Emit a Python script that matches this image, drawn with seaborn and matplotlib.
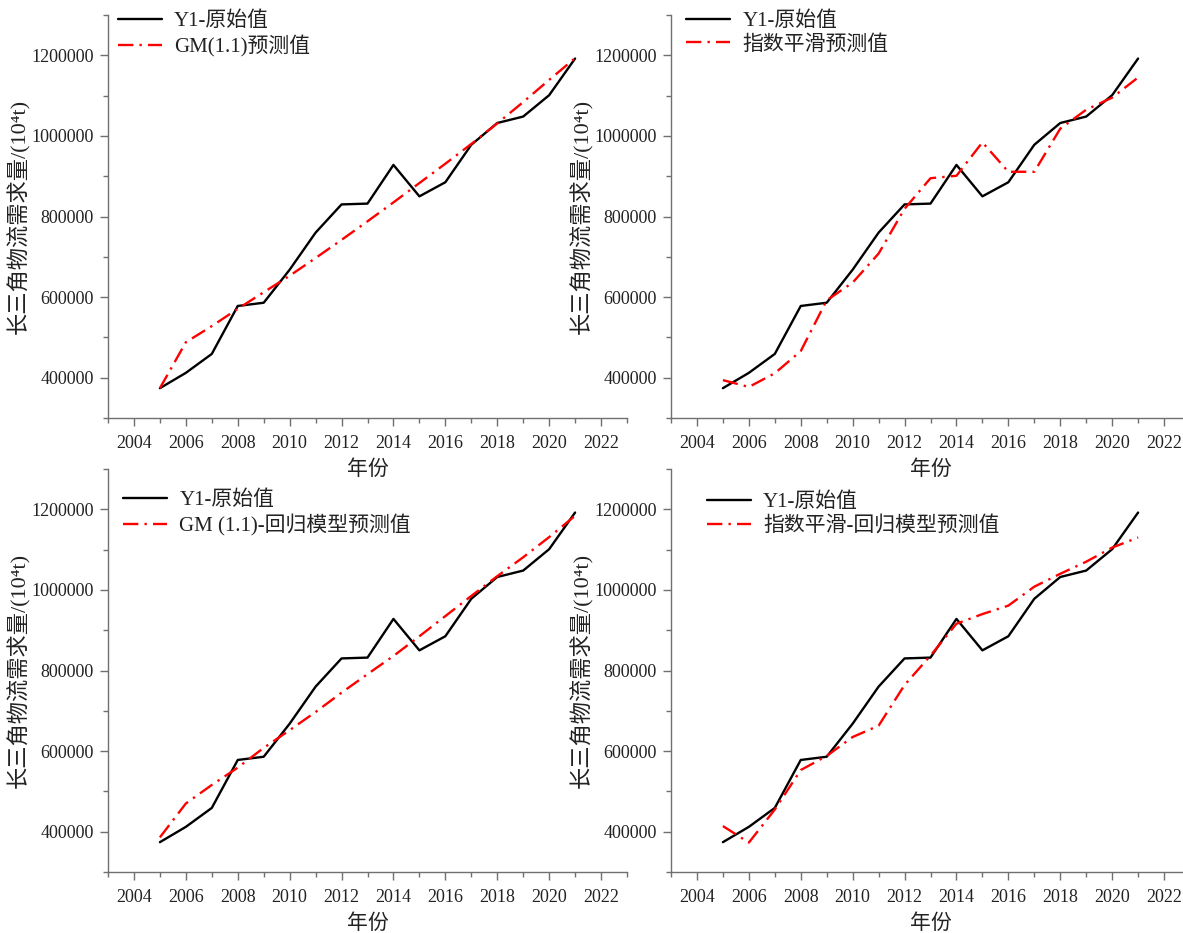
import numpy as np
import pandas as pd
import matplotlib
matplotlib.use("Agg")
import matplotlib.pyplot as plt
from matplotlib.ticker import MultipleLocator, FixedLocator, StrMethodFormatter
import seaborn as sns

years = list(range(2005, 2022))

# 长三角物流需求量 (10^4 t)
y1_actual = [374000, 412000, 459000, 578000, 586000, 668000, 760000, 830000,
             832000, 928000, 850000, 885000, 978000, 1032000, 1048000, 1101000, 1192000]
gm_pred = [374000, 488000, 528000, 571000, 612000, 653000, 697000, 742000,
           788000, 835000, 883000, 931000, 980000, 1031000, 1084000, 1139000, 1193000]
es_pred = [394000, 377000, 411000, 466000, 592000, 636000, 708000, 819000,
           895000, 901000, 984000, 911000, 911000, 1018000, 1065000, 1095000, 1145000]
gm_reg_pred = [386000, 470000, 516000, 559000, 608000, 652000, 697000, 745000,
               791000, 836000, 885000, 935000, 985000, 1034000, 1081000, 1131000, 1184000]
es_reg_pred = [414000, 373000, 455000, 553000, 588000, 635000, 663000, 764000,
               837000, 916000, 940000, 961000, 1008000, 1040000, 1070000, 1105000, 1130000]

actual_label = "Y1-原始值"
pred_labels = ["GM(1.1)预测值", "指数平滑预测值", "GM (1.1)-回归模型预测值", "指数平滑-回归模型预测值"]
pred_series = [gm_pred, es_pred, gm_reg_pred, es_reg_pred]

x_label = "年份"
y_label = "长三角物流需求量/(10⁴t)"

sns.set_theme(style="white")
plt.rcParams["font.family"] = ["Liberation Serif", "Noto Sans CJK SC", "DejaVu Sans"]
plt.rcParams["axes.unicode_minus"] = False

fig = plt.figure(figsize=(11.83, 9.33), dpi=100)

W, H = 1183, 933
ax_w, ax_h = 519, 403
origins = [(108, 15), (671, 15), (108, 469), (671, 469)]
legend_anchor = [(-0.005, 1.04), (0.005, 1.04), (0.005, 0.978), (0.045, 0.973)]

spine_col = "#707070"
text_col = "#222222"
dash = (6.5, 2.6, 1.0, 2.6)

for i, ((lx, ty), plabel, pvals) in enumerate(zip(origins, pred_labels, pred_series)):
    ax = fig.add_axes([lx / W, 1 - (ty + ax_h) / H, ax_w / W, ax_h / H])
    ax.patch.set_alpha(0)
    df = pd.DataFrame({
        "年份": years * 2,
        "值": y1_actual + pvals,
        "系列": [actual_label] * len(years) + [plabel] * len(years),
    })
    sns.lineplot(data=df, x="年份", y="值", hue="系列", style="系列",
                 palette={actual_label: "black", plabel: "#ff0000"},
                 dashes={actual_label: "", plabel: dash},
                 linewidth=1.7, ax=ax, legend=True)
    ax.set_xlim(2003, 2023)
    ax.set_ylim(300000, 1300000)
    ax.xaxis.set_major_locator(MultipleLocator(2))
    ax.xaxis.set_minor_locator(MultipleLocator(1))
    ax.yaxis.set_major_locator(FixedLocator([400000, 600000, 800000, 1000000, 1200000]))
    ax.yaxis.set_minor_locator(MultipleLocator(100000))
    ax.yaxis.set_major_formatter(StrMethodFormatter("{x:.0f}"))
    for s in ["top", "right"]:
        ax.spines[s].set_visible(False)
    for s in ["left", "bottom"]:
        ax.spines[s].set_color(spine_col)
        ax.spines[s].set_linewidth(1.0)
    ax.tick_params(axis="both", which="major", direction="out", length=6,
                   width=1.0, color=spine_col, labelsize=13, labelcolor=text_col,
                   left=True, bottom=True)
    ax.tick_params(axis="both", which="minor", direction="out", length=3.5,
                   width=1.0, color=spine_col, left=True, bottom=True)
    ax.tick_params(axis="y", which="major", pad=4)
    ax.tick_params(axis="x", which="major", pad=6)
    ax.set_xlabel(x_label, fontsize=15, color=text_col, labelpad=6)
    ax.set_ylabel(y_label, fontsize=16, color=text_col, labelpad=1)
    ax.grid(False)
    leg = ax.legend(loc="upper left", bbox_to_anchor=legend_anchor[i], frameon=False,
                    fontsize=15, handlelength=2.1, handletextpad=0.6,
                    labelspacing=0.2, borderaxespad=0.2, title=None)
    for t in leg.get_texts():
        t.set_color(text_col)
    for ln in leg.get_lines():
        ln.set_linewidth(1.7)

fig.savefig("out.png", dpi=100)
